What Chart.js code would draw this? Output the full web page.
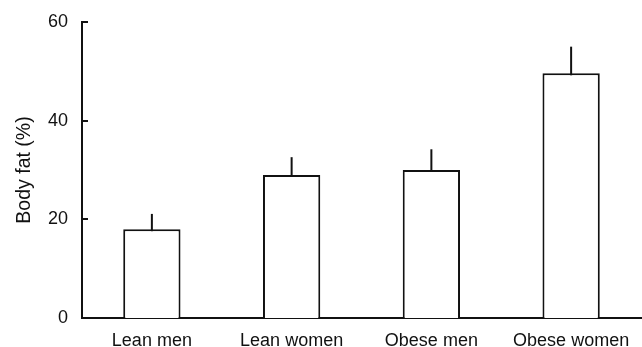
<!DOCTYPE html>
<html>
<head>
<meta charset="utf-8">
<script src="https://cdn.jsdelivr.net/npm/chart.js@4/dist/chart.umd.min.js"></script>
<style>
  html, body { margin: 0; padding: 0; background: #fff; }
  #wrap { width: 642px; height: 347px; }
</style>
</head>
<body>
<div id="wrap"><canvas id="c" width="642" height="347"></canvas></div>
<script>
// Body fat by group: mean and SD (upper error bar only)
const groups = ['Lean men', 'Lean women', 'Obese men', 'Obese women'];
const bodyFatMean = [18, 29, 30, 49.6];
const bodyFatSD = [3.1, 3.6, 4.2, 5.4];
const yTicks = [0, 20, 40, 60];

const ink = '#111';
const font = 'Liberation Sans, Arial, sans-serif';

// Upward-only error lines drawn from each bar's top, plus inward y tick marks
const errorBars = {
  id: 'errorBars',
  afterDatasetsDraw(chart) {
    const meta = chart.getDatasetMeta(0);
    const y = chart.scales.y;
    const ctx = chart.ctx;
    ctx.save();
    ctx.strokeStyle = ink;
    ctx.lineWidth = 2;
    meta.data.forEach((bar, i) => {
      const top = y.getPixelForValue(bodyFatMean[i] + bodyFatSD[i]);
      const base = y.getPixelForValue(bodyFatMean[i]);
      ctx.beginPath();
      ctx.moveTo(bar.x, base + 2);
      ctx.lineTo(bar.x, top);
      ctx.stroke();
    });
    const ax = chart.chartArea.left;
    y.ticks.forEach(t => {
      const py = Math.round(y.getPixelForValue(t.value));
      ctx.beginPath();
      ctx.moveTo(ax, py);
      ctx.lineTo(ax + 6, py);
      ctx.stroke();
    });
    ctx.restore();
  }
};

new Chart(document.getElementById('c'), {
  type: 'bar',
  data: {
    labels: groups,
    datasets: [{
      data: bodyFatMean,
      backgroundColor: '#fff',
      borderColor: ink,
      borderWidth: 2,
      borderSkipped: 'start',
      barPercentage: 0.41,
      categoryPercentage: 1
    }]
  },
  options: {
    responsive: false,
    animation: false,
    layout: { padding: { top: 22, right: 1, left: 0, bottom: 0 } },
    plugins: { legend: { display: false }, tooltip: { enabled: false } },
    scales: {
      x: {
        grid: { display: false },
        border: { display: true, color: ink, width: 2 },
        ticks: { color: ink, padding: 4, font: { family: font, size: 18 } },
        afterFit(scale) {
          scale.height = 29;
          scale.paddingLeft = 0;
          scale.paddingRight = 0;
        }
      },
      y: {
        min: 0,
        max: 60,
        afterBuildTicks(scale) { scale.ticks = yTicks.map(v => ({ value: v })); },
        grid: { display: false, drawTicks: false },
        border: { display: true, color: ink, width: 2 },
        ticks: { color: ink, padding: 14, font: { family: font, size: 18 } },
        title: {
          display: true,
          text: 'Body fat (%)',
          color: ink,
          font: { family: font, size: 19.5 },
          padding: { top: 13, bottom: 0 }
        },
        afterFit(scale) {
          scale.width = 82;
          scale.paddingTop = 0;
          scale.paddingBottom = 0;
        }
      }
    }
  },
  plugins: [errorBars]
});
</script>
</body>
</html>
